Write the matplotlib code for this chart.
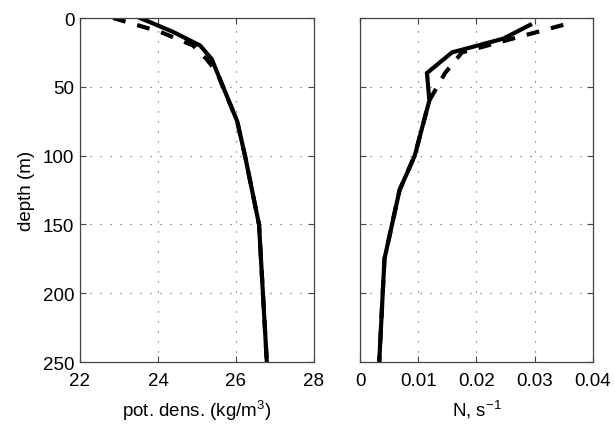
import matplotlib
matplotlib.use("Agg")
import matplotlib.pyplot as plt

plt.rcParams['font.family'] = ['Liberation Sans', 'DejaVu Sans']
plt.rcParams['mathtext.fontset'] = 'custom'
plt.rcParams['mathtext.rm'] = 'Liberation Sans'
plt.rcParams['mathtext.it'] = 'Liberation Sans'

# Left panel: potential density profiles
dens_solid_depth = [0, 10, 20, 30, 75, 100, 150, 250]
dens_solid = [23.54, 24.38, 25.08, 25.38, 26.03, 26.23, 26.59, 26.79]
dens_dash_depth = [0, 10, 20, 30, 40, 75, 100, 150, 250]
dens_dash = [22.85, 24.05, 24.9, 25.25, 25.52, 26.03, 26.23, 26.59, 26.79]

# Right panel: buoyancy frequency profiles
n_solid_depth = [5, 15, 25, 40, 60, 100, 125, 175, 250]
n_solid = [0.0292, 0.0246, 0.0158, 0.0115, 0.0119, 0.0094, 0.0068, 0.0042, 0.0033]
n_dash_depth = [5, 25, 40, 60, 100, 125, 175, 250]
n_dash = [0.0349, 0.0175, 0.0146, 0.0119, 0.0094, 0.0068, 0.0042, 0.0033]

dens_ticks = [22, 24, 26, 28]
n_ticks = [0, 0.01, 0.02, 0.03, 0.04]
n_ticklabels = ['0', '0.01', '0.02', '0.03', '0.04']
depth_ticks = [0, 50, 100, 150, 200, 250]

fig = plt.figure(figsize=(6.15, 4.27), dpi=100)
ax1 = fig.add_axes([80/615, 64/427, 234/615, 344/427])
ax2 = fig.add_axes([360/615, 64/427, 233/615, 344/427])

LW = 3.0
DASH = (3.1, 2.9)
FS = 13.5

for ax in (ax1, ax2):
    ax.set_ylim(250, 0)
    ax.set_yticks(depth_ticks)
    ax.grid(True, color='#555555', linestyle=(0, (1, 8)), linewidth=0.8)
    ax.tick_params(direction='in', top=True, right=True, length=4,
                   width=0.8, color='#444444', labelsize=FS)
    ax.tick_params(axis='x', pad=7.5)
    ax.tick_params(axis='y', pad=4)
    for s in ax.spines.values():
        s.set_color('#444444')
        s.set_linewidth(0.9)
    ax.set_axisbelow(True)

ax1.plot(dens_solid, dens_solid_depth, color='black', lw=LW, solid_joinstyle='miter')
ax1.plot(dens_dash, dens_dash_depth, color='black', lw=LW, dashes=DASH,
         dash_capstyle='butt')
ax1.set_xlim(22, 28)
ax1.set_xticks(dens_ticks)
ax1.set_xlabel('pot. dens. (kg/m$^3$)', fontsize=FS, labelpad=6)
ax1.set_ylabel('depth (m)', fontsize=FS, labelpad=6)

ax2.plot(n_solid, n_solid_depth, color='black', lw=LW, solid_joinstyle='miter')
ax2.plot(n_dash, n_dash_depth, color='black', lw=LW, dashes=DASH,
         dash_capstyle='butt')
ax2.set_xlim(0, 0.04)
ax2.set_xticks(n_ticks)
ax2.set_xticklabels(n_ticklabels)
ax2.tick_params(labelleft=False)
ax2.set_xlabel('N, s$^{-1}$', fontsize=FS, labelpad=6)

fig.savefig('out.png', dpi=100)
